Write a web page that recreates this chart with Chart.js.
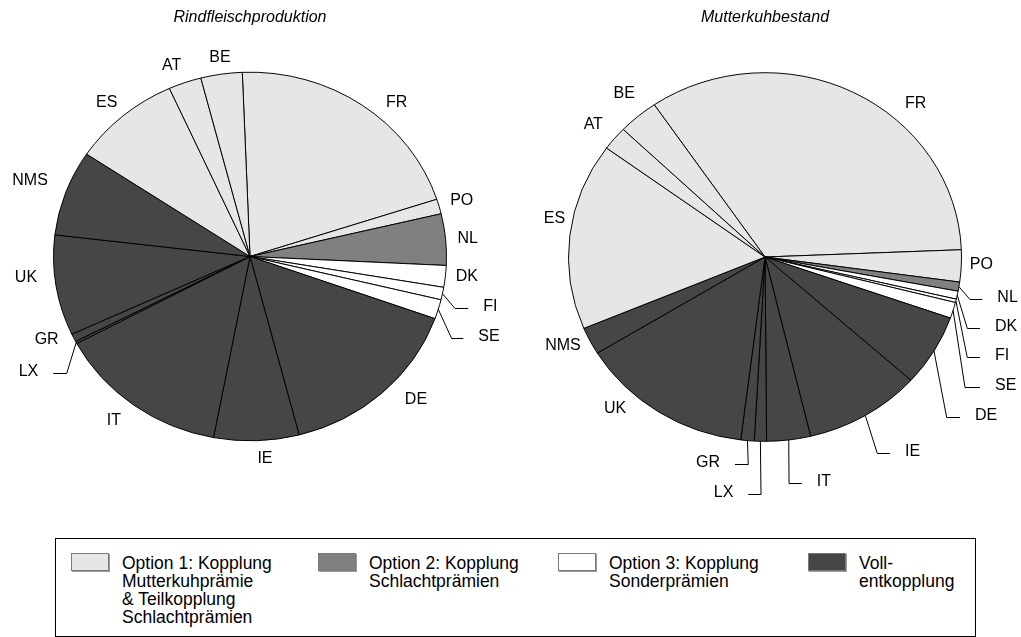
<!DOCTYPE html>
<html>
<head>
<meta charset="utf-8">
<script src="https://cdn.jsdelivr.net/npm/chart.js@4/dist/chart.umd.min.js"></script>
<style>
html,body{margin:0;padding:0;background:#fff;}
body{width:1021px;height:637px;position:relative;overflow:hidden;font-family:'Liberation Sans',Arial,sans-serif;}
#w1{position:absolute;left:0;top:0;width:510px;height:530px;}
#w2{position:absolute;left:510px;top:0;width:511px;height:530px;}
#legend{position:absolute;left:55px;top:538px;width:919px;height:97px;border:1px solid #000;box-sizing:content-box;}
.item{position:absolute;top:0;}
.sw{position:absolute;left:0;top:14px;width:36px;height:16px;border:1px solid #7a7a7a;box-shadow:1px 1px 0 #9a9a9a;}
.tx{position:absolute;left:51px;top:15px;font-size:17.5px;line-height:18px;white-space:nowrap;color:#000;}
</style>
</head>
<body>
<div id="w1"><canvas id="c1" width="510" height="530"></canvas></div>
<div id="w2"><canvas id="c2" width="511" height="530"></canvas></div>
<div id="legend"></div>
<script>
// ---- data ----
const countries = ['FR','PO','NL','DK','FI','SE','DE','IE','IT','LX','GR','UK','NMS','ES','AT','BE'];
const rindfleischShares = [20.6, 1.3, 4.5, 1.9, 1.1, 1.7, 15.5, 7.0, 14.2, 0.2, 0.7, 8.8, 7.5, 8.9, 2.7, 3.4];
const mutterkuhShares   = [33.9, 2.8, 0.8, 0.7, 0.3, 1.4, 6.3, 9.6, 3.6, 1.0, 1.1, 14.3, 2.4, 16.4, 2.1, 3.3];
const countryOption     = [1, 1, 2, 3, 3, 3, 4, 4, 4, 4, 4, 4, 4, 1, 1, 1];
const chartTitles = ['Rindfleischproduktion', 'Mutterkuhbestand'];
const optionLabels = [
  ['Option 1: Kopplung', 'Mutterkuhprämie', '& Teilkopplung', 'Schlachtprämien'],
  ['Option 2: Kopplung', 'Schlachtprämien'],
  ['Option 3: Kopplung', 'Sonderprämien'],
  ['Voll-', 'entkopplung']
];

// ---- styles ----
const FONT = "'Liberation Sans', Arial, sans-serif";
const optionColors = ['#e6e6e6', '#808080', '#ffffff', '#464646'];
const legendItemLeft = [15, 262, 502, 752];

// label placement: offset of text from slice edge midpoint, or leader [dx, dy, horizontal]
const leftPlacement = {
  FR:{dx:34.5,dy:-2.9}, PO:{dx:22.6,dy:-5.8}, NL:{dx:22,dy:-1.2}, DK:{dx:21.4,dy:0.3},
  FI:{leader:[12.5,14.1,13.3]}, SE:{leader:[13.4,29,11.6]},
  DE:{dx:33.5,dy:6.7}, IE:{dx:8.5,dy:17.6}, IT:{dx:-19.8,dy:15.6},
  LX:{leader:[-9.5,30.2,-13.4]}, GR:{dx:-27,dy:2.2}, UK:{dx:-30,dy:-7.9},
  NMS:{dx:-35.6,dy:-11.7}, ES:{dx:-16.4,dy:-13.5}, AT:{dx:-13.2,dy:-16.9}, BE:{dx:-1.4,dy:-16.9}
};
const rightPlacement = {
  FR:{dx:62.4,dy:10.9}, PO:{dx:20,dy:-1.6},
  NL:{leader:[11.1,12.3,12.3]}, DK:{leader:[10.1,33.1,12.7]}, FI:{leader:[11.4,56.5,12.7]},
  SE:{leader:[11.9,76.4,15]}, DE:{leader:[12.7,65.7,13.3]}, IE:{leader:[12,37.2,12.7]},
  IT:{leader:[0.3,43.3,12.7]}, LX:{leader:[0.6,53.1,-12.7]}, GR:{leader:[0.8,23.7,-13.3]},
  UK:{dx:-43.4,dy:-3.5}, NMS:{dx:-27.1,dy:4.7}, ES:{dx:-15.4,dy:-17.1},
  AT:{dx:-21.3,dy:-14}, BE:{dx:-13.8,dy:-23}
};

// ---- plugins ----
const ellipsePlugin = {
  id: 'ellipse',
  beforeDatasetsDraw(chart, args, opts) {
    const a = chart.getDatasetMeta(0).data[0];
    const ctx = chart.ctx;
    ctx.save();
    ctx.translate(a.x, a.y);
    ctx.scale(1, opts.ratio);
    ctx.translate(-a.x, -a.y);
  },
  afterDatasetsDraw(chart) { chart.ctx.restore(); }
};

const labelPlugin = {
  id: 'pieLabels',
  afterDraw(chart, args, opts) {
    const ctx = chart.ctx;
    const meta = chart.getDatasetMeta(0);
    const k = chart.options.plugins.ellipse.ratio;
    ctx.save();
    ctx.font = '16px ' + FONT;
    ctx.fillStyle = '#000';
    ctx.strokeStyle = '#000';
    ctx.lineWidth = 1;
    meta.data.forEach((arc, i) => {
      const name = chart.data.labels[i];
      const p = opts.placement[name];
      if (!p) return;
      const mid = (arc.startAngle + arc.endAngle) / 2;
      const ex = arc.x + arc.outerRadius * Math.cos(mid);
      const ey = arc.y + arc.outerRadius * Math.sin(mid) * k;
      if (p.leader) {
        const [lx, ly, h] = p.leader;
        const x1 = ex + lx, y1 = Math.round(ey + ly) + 0.5, x2 = x1 + h;
        ctx.beginPath();
        ctx.moveTo(ex, ey);
        ctx.lineTo(x1, y1);
        ctx.lineTo(x2, y1);
        ctx.stroke();
        ctx.textBaseline = 'middle';
        ctx.textAlign = h > 0 ? 'left' : 'right';
        ctx.fillText(name, x2 + (h > 0 ? 15 : -15), y1 - 1.5);
      } else {
        ctx.textAlign = 'center';
        ctx.textBaseline = 'middle';
        ctx.fillText(name, ex + p.dx, ey + p.dy);
      }
    });
    ctx.restore();
  }
};

function makePie(canvasId, title, values, rotation, padding, placement) {
  return new Chart(document.getElementById(canvasId), {
    type: 'pie',
    data: {
      labels: countries,
      datasets: [{
        data: values,
        backgroundColor: countryOption.map(o => optionColors[o - 1]),
        borderColor: '#000',
        borderWidth: 1,
        clip: false
      }]
    },
    options: {
      responsive: false,
      animation: false,
      events: [],
      rotation: rotation,
      radius: 196.5,
      layout: { padding: padding },
      plugins: {
        legend: { display: false },
        tooltip: { enabled: false },
        title: {
          display: true, text: title, color: '#000',
          font: { family: FONT, size: 16, style: 'italic', weight: 'normal' },
          padding: { top: 8, bottom: 10 }
        },
        ellipse: { ratio: 0.938 },
        pieLabels: { placement: placement }
      }
    },
    plugins: [ellipsePlugin, labelPlugin]
  });
}

makePie('c1', chartTitles[0], rindfleischShares, -2.25, {left: 0, right: 10, top: 0, bottom: 54.2}, leftPlacement);
makePie('c2', chartTitles[1], mutterkuhShares, -34.3, {left: 0, right: 1, top: 0, bottom: 53.2}, rightPlacement);

// ---- legend ----
const legend = document.getElementById('legend');
optionLabels.forEach((lines, i) => {
  const item = document.createElement('div');
  item.className = 'item';
  item.style.left = legendItemLeft[i] + 'px';
  const sw = document.createElement('div');
  sw.className = 'sw';
  sw.style.background = optionColors[i];
  const tx = document.createElement('div');
  tx.className = 'tx';
  tx.innerHTML = lines.map(s => s.replace(/&/g, '&amp;')).join('<br>');
  item.appendChild(sw);
  item.appendChild(tx);
  legend.appendChild(item);
});
</script>
</body>
</html>
